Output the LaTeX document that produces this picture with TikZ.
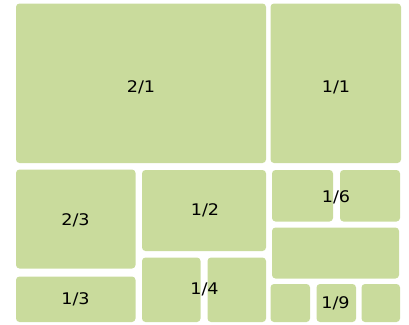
\documentclass[tikz,border=0pt]{standalone}
\usepackage{fontspec}
\setmainfont{DejaVu Sans}[FakeStretch=1.1]
\definecolor{boxgreen}{RGB}{201,219,156}
\begin{document}
\begin{tikzpicture}[x=1pt,y=-1pt,
  cell/.style={fill=boxgreen,rounded corners=3.5pt},
  lbl/.style={font=\fontsize{16}{19}\selectfont,inner sep=0pt}]
\useasboundingbox (0,0) rectangle (409,324);
% top row
\path[cell] (16,3.5) rectangle (266,163);
\path[cell] (270.5,3.5) rectangle (401,163);
% left column
\path[cell] (16,169.5) rectangle (135.5,268.5);
\path[cell] (16,276.5) rectangle (135.5,322);
% middle column
\path[cell] (142,170) rectangle (266,251);
\path[cell] (142,257.5) rectangle (200.5,322);
\path[cell] (207.5,257.5) rectangle (266,322);
% right column
\path[cell] (272,170) rectangle (333,221.5);
\path[cell] (340,170) rectangle (400,221.5);
\path[cell] (272,227.5) rectangle (399,278.5);
\path[cell] (270.5,284) rectangle (310,322);
\path[cell] (316.5,284) rectangle (356,322);
\path[cell] (361.5,284) rectangle (400,322);
% labels
\node[lbl] (l21) at (141,87) {2/1};
\node[lbl] (l11) at (336,87) {1/1};
\node[lbl] (l23) at (75.5,220) {2/3};
\node[lbl] (l13) at (75.5,299) {1/3};
\node[lbl] (l12) at (205,210.5) {1/2};
\node[lbl] (l14) at (204.5,289.5) {1/4};
\node[lbl] (l16) at (336,197.5) {1/6};
\node[lbl] (l19) at (335.5,303.5) {1/9};
\end{tikzpicture}
\end{document}
